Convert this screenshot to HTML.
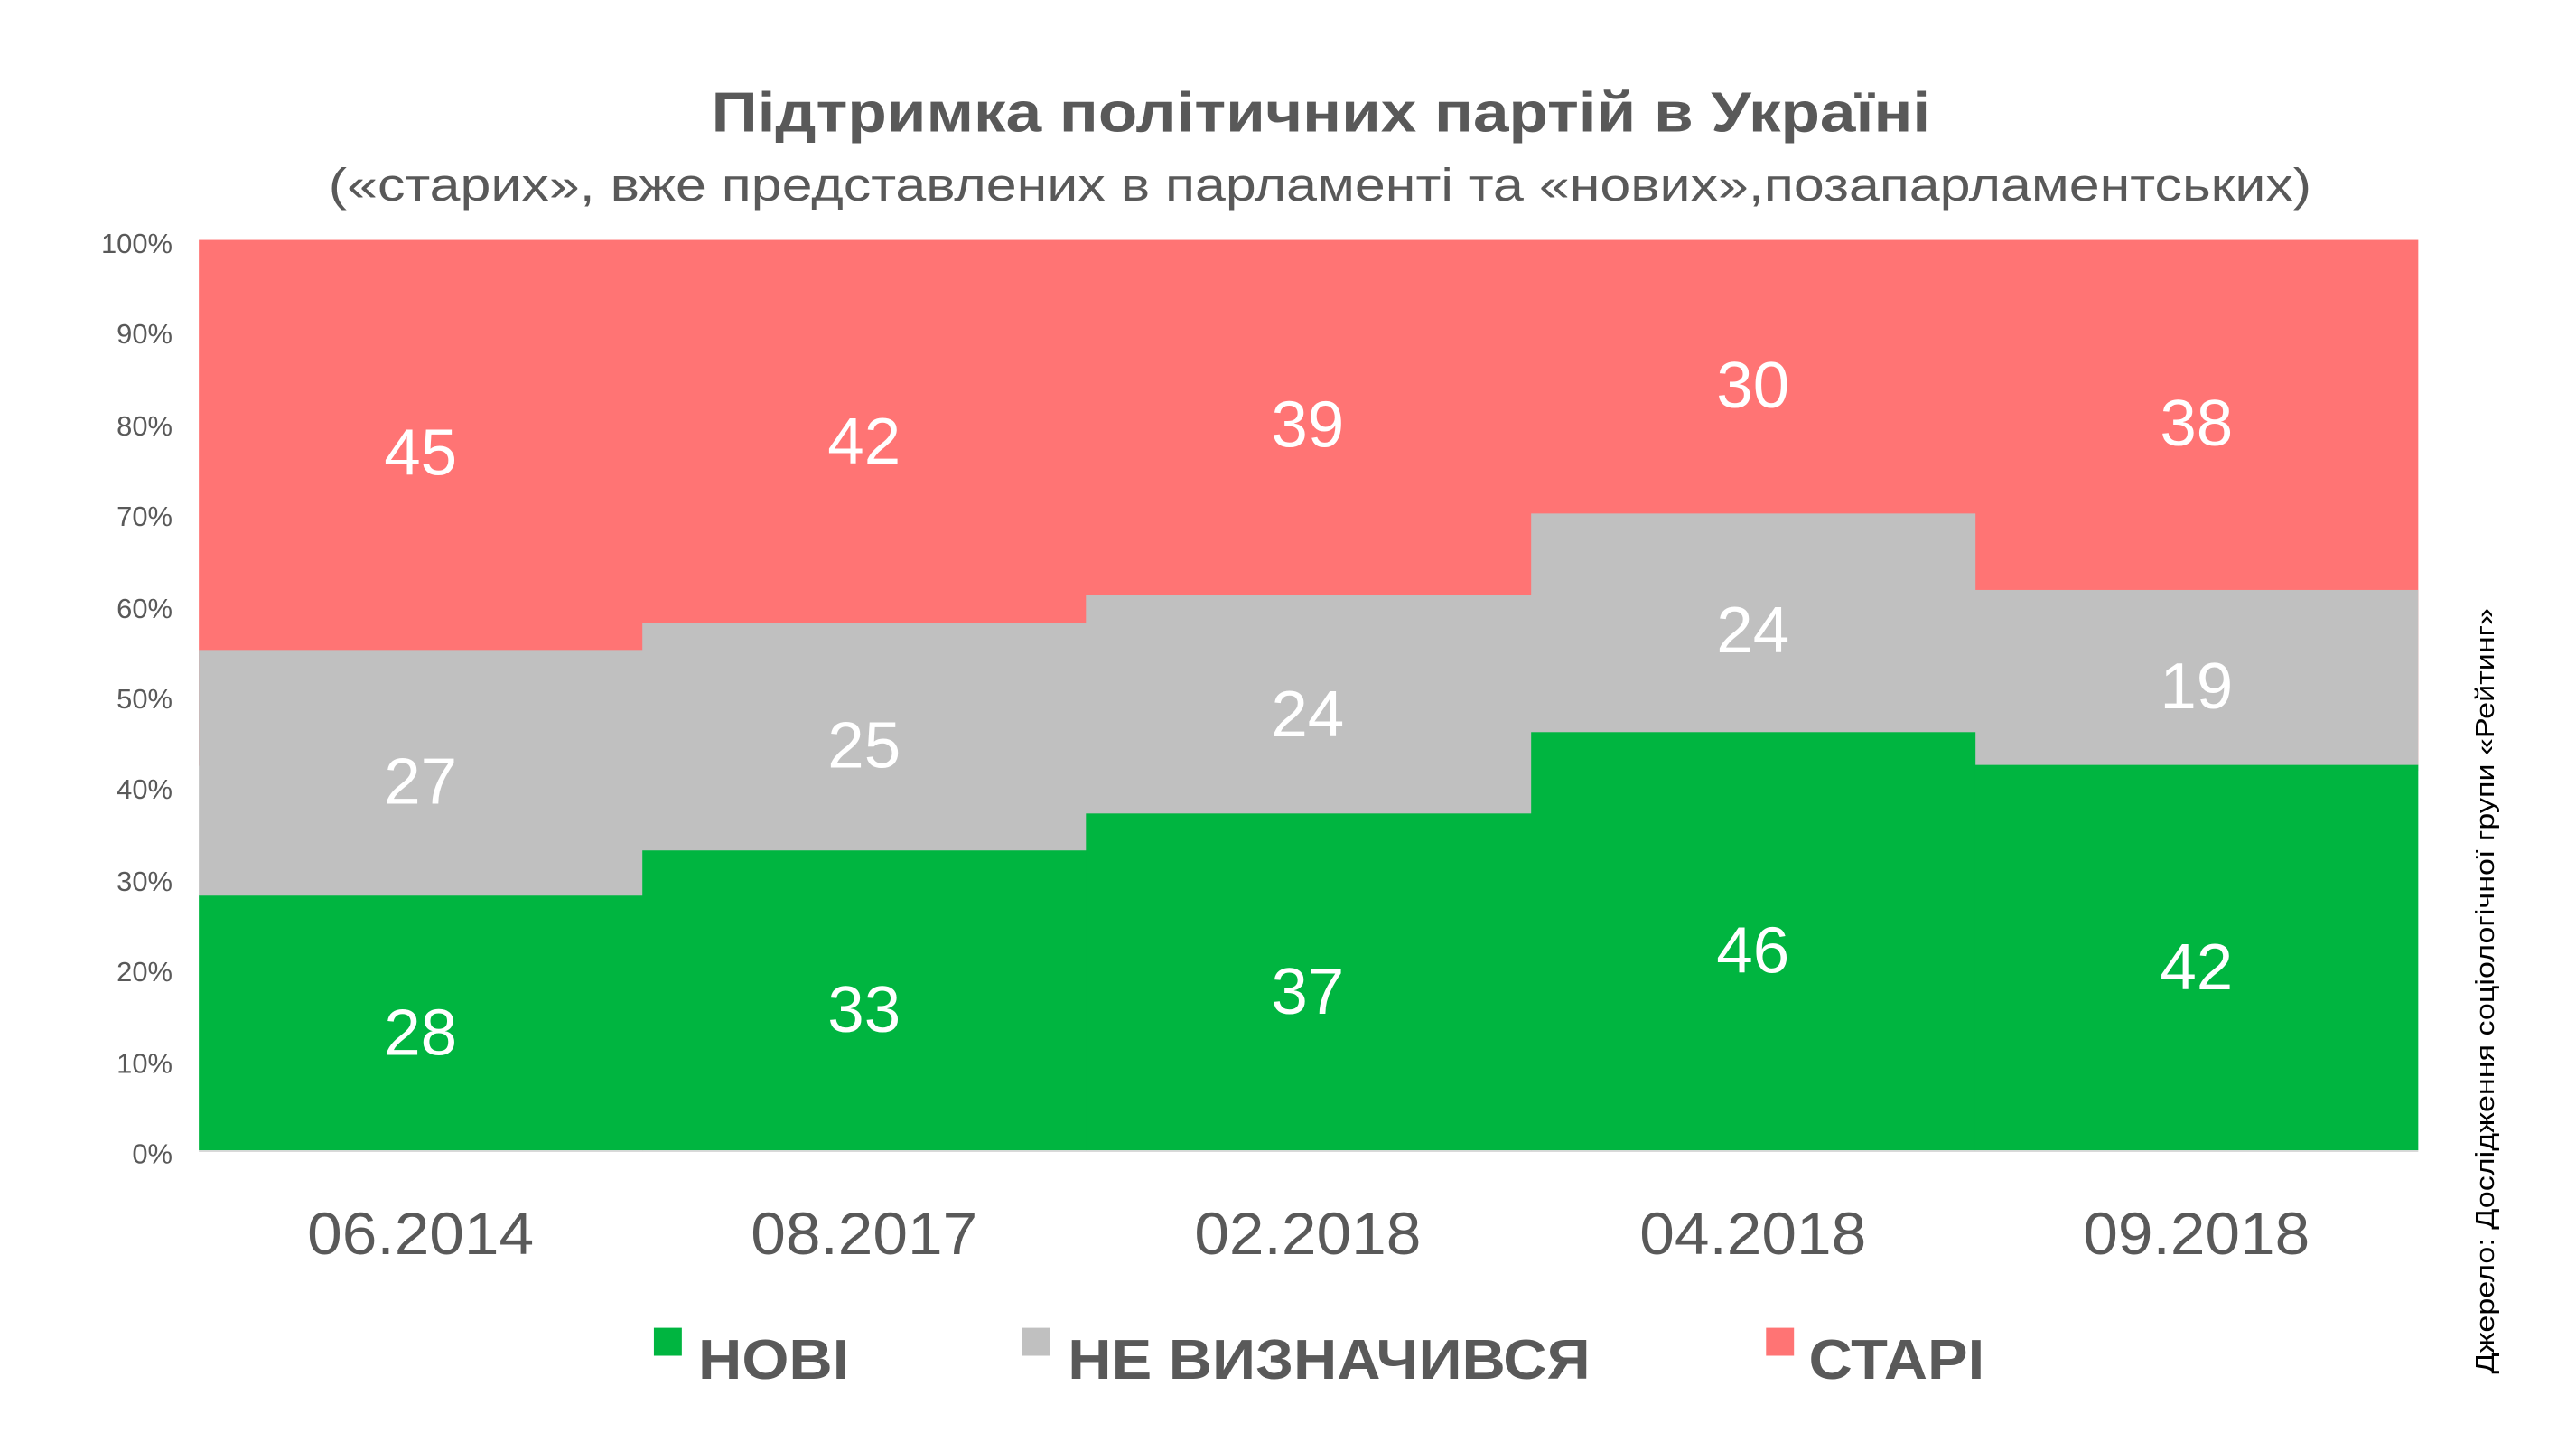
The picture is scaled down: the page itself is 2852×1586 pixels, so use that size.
<!DOCTYPE html>
<html><head><meta charset="utf-8"><style>
html,body{margin:0;padding:0;background:#fff;}
svg{display:block;}
</style></head><body>
<svg width="2852" height="1586" viewBox="0 0 1568 872" xmlns="http://www.w3.org/2000/svg" font-family="Liberation Sans, sans-serif">
<rect width="1568" height="872" fill="#fff"/>
<text x="433" y="80" font-size="34" font-weight="bold" fill="#595959" textLength="742" lengthAdjust="spacingAndGlyphs">Підтримка політичних партій в Україні</text>
<text x="200" y="122" font-size="28" fill="#595959" textLength="1207" lengthAdjust="spacingAndGlyphs">(«старих», вже представлених в парламенті та «нових»,позапарламентських)</text>
<g fill="#ff7474">
<rect x="121" y="146" width="1351" height="320"/>
</g>
<g fill="#c0c0c0">
<rect x="121" y="395.5" width="270.5" height="150"/>
<rect x="391" y="379" width="270.5" height="140"/>
<rect x="661" y="362" width="271.5" height="135"/>
<rect x="932" y="312.5" width="270.5" height="135"/>
<rect x="1202" y="359" width="270" height="110"/>
</g>
<g fill="#00b540">
<rect x="121" y="545" width="270.5" height="155"/>
<rect x="391" y="517.5" width="270.5" height="182.5"/>
<rect x="661" y="495" width="271.5" height="205"/>
<rect x="932" y="445.5" width="270.5" height="254.5"/>
<rect x="1202" y="465.5" width="270" height="234.5"/>
</g>
<line x1="121" y1="700.5" x2="1472" y2="700.5" stroke="#d9d9d9" stroke-width="1"/>
<g font-size="17" fill="#595959" text-anchor="end">
<text x="105" y="154">100%</text>
<text x="105" y="209">90%</text>
<text x="105" y="265">80%</text>
<text x="105" y="320">70%</text>
<text x="105" y="376">60%</text>
<text x="105" y="431">50%</text>
<text x="105" y="486">40%</text>
<text x="105" y="542">30%</text>
<text x="105" y="597">20%</text>
<text x="105" y="653">10%</text>
<text x="105" y="708">0%</text>
</g>
<g font-size="40" fill="#fff" text-anchor="middle">
<text x="256" y="289">45</text><text x="256" y="489">27</text><text x="256" y="642">28</text>
<text x="526" y="282">42</text><text x="526" y="467">25</text><text x="526" y="628">33</text>
<text x="796" y="272">39</text><text x="796" y="448">24</text><text x="796" y="617">37</text>
<text x="1067" y="248">30</text><text x="1067" y="397">24</text><text x="1067" y="592">46</text>
<text x="1337" y="271">38</text><text x="1337" y="431">19</text><text x="1337" y="602">42</text>
</g>
<g font-size="36" fill="#595959">
<text x="187" y="763" textLength="138" lengthAdjust="spacingAndGlyphs">06.2014</text>
<text x="457" y="763" textLength="138" lengthAdjust="spacingAndGlyphs">08.2017</text>
<text x="727" y="763" textLength="138" lengthAdjust="spacingAndGlyphs">02.2018</text>
<text x="998" y="763" textLength="138" lengthAdjust="spacingAndGlyphs">04.2018</text>
<text x="1268" y="763" textLength="138" lengthAdjust="spacingAndGlyphs">09.2018</text>
</g>
<rect x="398" y="808" width="17" height="17" fill="#00b540"/>
<rect x="622" y="808" width="17" height="17" fill="#c0c0c0"/>
<rect x="1075" y="808" width="17" height="17" fill="#ff7474"/>
<g font-size="34" font-weight="bold" fill="#595959">
<text x="425" y="839" textLength="92" lengthAdjust="spacingAndGlyphs">НОВІ</text>
<text x="650" y="839" textLength="318" lengthAdjust="spacingAndGlyphs">НЕ ВИЗНАЧИВСЯ</text>
<text x="1101" y="839" textLength="107" lengthAdjust="spacingAndGlyphs">СТАРІ</text>
</g>
<text transform="translate(1518,836) rotate(-90)" font-size="16" fill="#000" textLength="466" lengthAdjust="spacingAndGlyphs">Джерело: Дослідження соціологічної групи «Рейтинг»</text>
</svg>
</body></html>
